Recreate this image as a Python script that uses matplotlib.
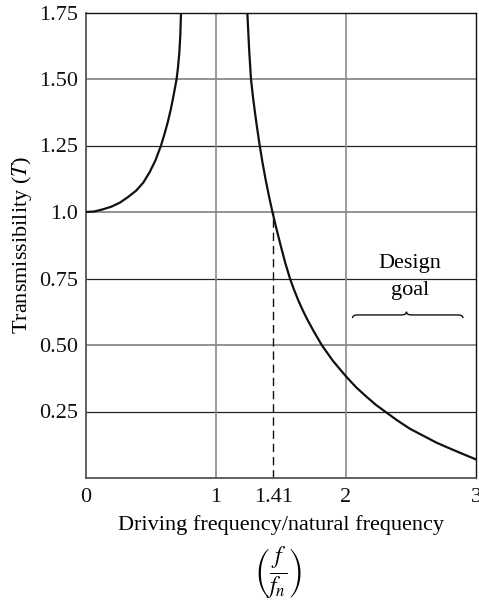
import matplotlib
matplotlib.use("Agg")
import matplotlib.pyplot as plt
from matplotlib.path import Path
import matplotlib.patches as patches

# Curve (frequency ratio vs transmissibility)
left_r = [0.0, 0.065, 0.13, 0.195, 0.26, 0.32, 0.385, 0.44, 0.49, 0.535, 0.577,
          0.605, 0.63, 0.652, 0.672, 0.697, 0.708, 0.718, 0.725, 0.731]
left_T = [1.0, 1.002, 1.01, 1.02, 1.035, 1.055, 1.08, 1.11, 1.15, 1.195, 1.25,
          1.295, 1.34, 1.385, 1.434, 1.5, 1.545, 1.60, 1.66, 1.75]

right_r = [1.241, 1.255, 1.269, 1.285, 1.300, 1.315, 1.333, 1.357, 1.382, 1.409,
           1.436, 1.466, 1.497, 1.532, 1.569, 1.60, 1.633, 1.665, 1.698, 1.75,
           1.813, 1.9, 2.0, 2.08, 2.159, 2.23, 2.3, 2.39, 2.492, 2.59, 2.697,
           2.77, 2.851, 2.93, 3.0]
right_T = [1.75, 1.61, 1.5, 1.43, 1.373, 1.32, 1.26, 1.188, 1.121, 1.056,
           0.996, 0.935, 0.875, 0.81, 0.75, 0.708, 0.668, 0.633, 0.600, 0.553,
           0.5, 0.44, 0.382, 0.34, 0.305, 0.275, 0.25, 0.218, 0.185, 0.16, 0.1327,
           0.117, 0.1002, 0.084, 0.07]

x_ticks = [0, 1, 1.44, 2, 3]
x_labels = ["0", "1", "1.41", "2", "3"]
y_ticks = [0.25, 0.50, 0.75, 1.0, 1.25, 1.50, 1.75]
y_labels = ["0.25", "0.50", "0.75", "1.0", "1.25", "1.50", "1.75"]

crossover_r = 1.44
crossover_T = 1.0
goal_lo, goal_hi, goal_T = 2.05, 2.9, 0.613

plt.rcParams["font.family"] = ["Liberation Serif", "DejaVu Serif"]
plt.rcParams["mathtext.fontset"] = "stix"
fs = 16

fig = plt.figure(figsize=(4.79, 6.03), dpi=100)
ax = fig.add_axes([86 / 479, 1 - 478 / 603, 390 / 479, 465.5 / 603])

ax.set_xlim(0, 3)
ax.set_ylim(0, 1.75)

# Grid (alternating grey / black like the print)
for yv in y_ticks[:-1]:
    if yv in (0.5, 1.0, 1.5):
        ax.axhline(yv, color="#8a8a8a", lw=1.3, zorder=1)
    else:
        ax.axhline(yv, color="#222222", lw=0.9, zorder=1)
for xv in (1, 2):
    ax.axvline(xv, color="#8a8a8a", lw=1.2, zorder=1)

ax.plot(left_r, left_T, color="#111111", lw=1.6, zorder=3, solid_joinstyle="round")
ax.plot(right_r, right_T, color="#111111", lw=1.6, zorder=3, solid_joinstyle="round")

ax.plot([crossover_r, crossover_r], [0, crossover_T], color="#111111", lw=1.0,
        dashes=(6, 3.5), zorder=2)

# Brace under "Design goal"
mid = (goal_lo + goal_hi) / 2 - 0.01
d = 0.012
e = 0.04
verts = [
    (goal_lo, goal_T - d), (goal_lo, goal_T), (goal_lo + e, goal_T),
    (mid - e, goal_T), (mid, goal_T), (mid, goal_T + d),
    (mid, goal_T), (mid + e, goal_T),
    (goal_hi - e, goal_T), (goal_hi, goal_T), (goal_hi, goal_T - d),
]
codes = [Path.MOVETO, Path.CURVE3, Path.CURVE3,
         Path.LINETO, Path.CURVE3, Path.CURVE3,
         Path.CURVE3, Path.CURVE3,
         Path.LINETO, Path.CURVE3, Path.CURVE3]
ax.add_patch(patches.PathPatch(Path(verts, codes), fill=False, lw=1.0,
                               edgecolor="#111111", zorder=3))
ax.text(2.49, 0.788, "Design", ha="center", va="baseline", fontsize=fs)
ax.text(2.49, 0.688, "goal", ha="center", va="baseline", fontsize=fs)

ax.set_xticks(x_ticks)
ax.set_xticklabels(x_labels)
ax.set_yticks(y_ticks)
ax.set_yticklabels(y_labels)
ax.tick_params(length=0, labelsize=fs, colors="#111111")
ax.tick_params(axis="x", pad=7)
ax.tick_params(axis="y", pad=6)

for side in ("top", "right"):
    ax.spines[side].set_color("#111111")
    ax.spines[side].set_linewidth(1.0)
for side in ("left", "bottom"):
    ax.spines[side].set_color("#555555")
    ax.spines[side].set_linewidth(1.3)

ax.set_ylabel("Transmissibility ($T$)", fontsize=fs, labelpad=3)
ax.set_xlabel("Driving frequency/natural frequency", fontsize=fs, labelpad=6)

fig.text(278 / 479, 1 - 573 / 603, r"$\left(\dfrac{f}{f_n}\right)$",
         ha="center", va="center", fontsize=fs + 1)

fig.savefig("out.png", dpi=100)
